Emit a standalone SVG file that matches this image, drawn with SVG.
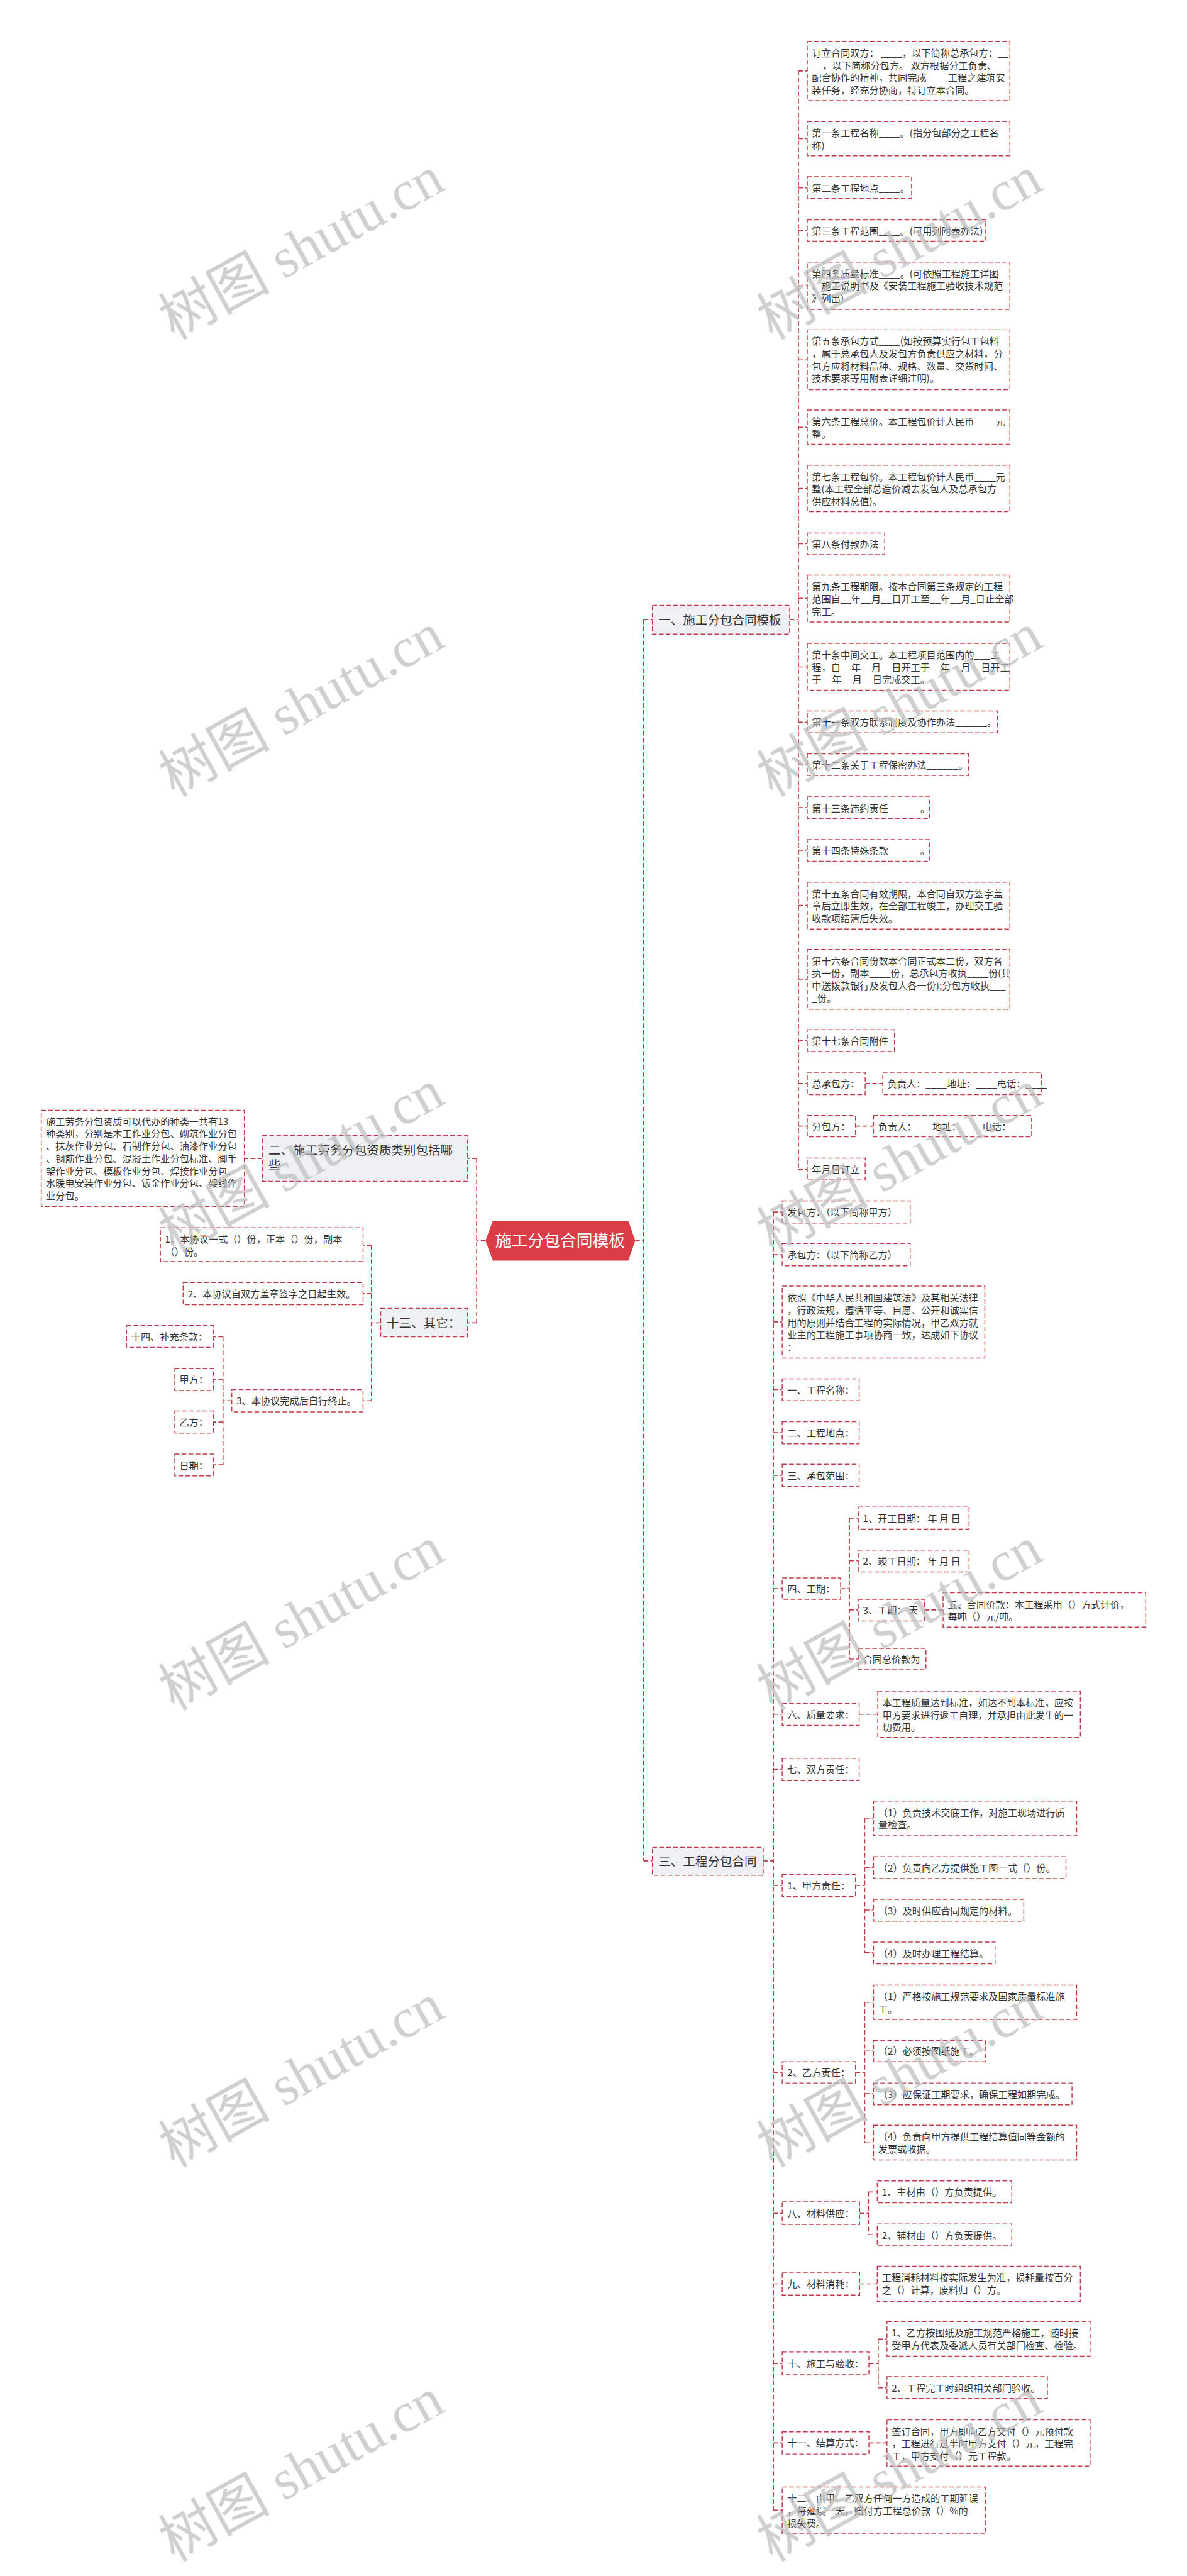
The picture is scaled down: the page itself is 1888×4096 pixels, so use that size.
<svg xmlns="http://www.w3.org/2000/svg" width="1888" height="4096" viewBox="0 0 1888 4096">
<style>
.b{fill:#fff;stroke:#c43a44;stroke-width:2;stroke-dasharray:10 5}
.g{fill:#eef0f4;stroke:#c43a44;stroke-width:2;stroke-dasharray:10 5}
.c{fill:none;stroke:#c43a44;stroke-width:2.2;stroke-dasharray:10 5}
.t{font-family:"Noto Sans CJK SC","Noto Sans",sans-serif;font-size:20.6px;fill:#333}
.tb{font-family:"Noto Sans CJK SC","Noto Sans",sans-serif;font-size:26.5px;fill:#333}
.tr{font-family:"Noto Sans CJK SC","Noto Sans",sans-serif;font-size:35px;fill:#fff}
.w{font-family:"Liberation Serif","Noto Sans CJK SC",serif;font-size:120px;fill:#bdbdbd;opacity:.72}
</style>
<rect width="1888" height="4096" fill="#fff"/>
<g transform="scale(0.7375)">
<g id="connectors">
<path class="c" d="M1370 2675H1388M1388 1336V4012M1388 1336H1407M1388 4012H1407"/>
<path class="c" d="M1047 2675H1028M1028 2498V2852M1028 2498H1008M1028 2852H1008M566 2498H527"/>
<path class="c" d="M821 2852H801M801 2685V3020M801 2685H783M801 2789H783M801 3020H783"/>
<path class="c" d="M500 3020H481M481 2882V3158M481 2882H460M481 2974H460M481 3066H460M481 3158H460"/>
<path class="c" d="M1703 1336H1722M1722 153V2521M1722 153H1741M1722 299H1741M1722 405H1741M1722 497H1741M1722 616H1741M1722 776H1741M1722 921H1741M1722 1053H1741M1722 1172H1741M1722 1290H1741M1722 1438H1741M1722 1557H1741M1722 1649H1741M1722 1741H1741M1722 1833H1741M1722 1952H1741M1722 2111H1741M1722 2243H1741M1722 2336H1741M1722 2428H1741M1722 2521H1741M1866 2336H1904M1845 2428H1884"/>
<path class="c" d="M1646 4012H1668M1668 2613V5412M1668 2613H1687M1668 2705H1687M1668 2850H1687M1668 2996H1687M1668 3089H1687M1668 3181H1687M1668 3425H1687M1668 3696H1687M1668 3815H1687M1668 4065H1687M1668 4468H1687M1668 4772H1687M1668 4924H1687M1668 5096H1687M1668 5267H1687M1668 5412H1687"/>
<path class="c" d="M1813 3425H1832M1832 3273V3577M1832 3273H1851M1832 3365H1851M1832 3471H1851M1832 3577H1851M1994 3471H2034M1853 3696H1893"/>
<path class="c" d="M1845 4065H1865M1865 3920V4210M1865 3920H1884M1865 4026H1884M1865 4118H1884M1865 4210H1884"/>
<path class="c" d="M1845 4468H1865M1865 4317V4620M1865 4317H1884M1865 4422H1884M1865 4514H1884M1865 4620H1884"/>
<path class="c" d="M1854 4772H1873M1873 4726V4818M1873 4726H1892M1873 4818H1892M1854 4924H1892M1874 5096H1894M1894 5043V5148M1894 5043H1913M1894 5148H1913M1874 5267H1913"/>
</g>

<g id="root"><polygon points="1047,2675 1063,2632 1355,2632 1370,2675 1355,2718 1063,2718" fill="#dc3c46"/><text class="tr" x="1208" y="2688" text-anchor="middle">施工分包合同模板</text></g>

<g id="b1"><rect class="g" x="1407" y="1305" width="296" height="62"/><text class="tb" x="1420" y="1346">一、施工分包合同模板</text></g>
<g id="b2"><rect class="g" x="566" y="2448" width="442" height="99"/><text class="tb"><tspan x="579" y="2489">二、施工劳务分包资质类别包括哪</tspan><tspan x="579" y="2522">些</tspan></text></g>
<g id="b13"><rect class="g" x="821" y="2821" width="187" height="61"/><text class="tb" x="834" y="2862">十三、其它：</text></g>
<g id="b3"><rect class="g" x="1407" y="3983" width="239" height="60"/><text class="tb" x="1420" y="4023">三、工程分包合同</text></g>

<g id="n1"><rect class="b" x="1741" y="89" width="437" height="128"/><text class="t"><tspan x="1751" y="122">订立合同双方：  ____，以下简称总承包方：__</tspan><tspan x="1751" y="149">__，以下简称分包方。 双方根据分工负责、</tspan><tspan x="1751" y="175.5">配合协作的精神，共同完成____工程之建筑安</tspan><tspan x="1751" y="202">装任务，经充分协商，特订立本合同。</tspan></text></g>
<g id="n2"><rect class="b" x="1741" y="262" width="437" height="74"/><text class="t"><tspan x="1751" y="294.5">第一条工程名称____。(指分包部分之工程名</tspan><tspan x="1751" y="321.2">称)</tspan></text></g>
<g id="n3"><rect class="b" x="1741" y="381" width="225" height="47"/><text class="t" x="1751" y="413">第二条工程地点____。</text></g>
<g id="n4"><rect class="b" x="1741" y="474" width="385" height="46"/><text class="t" x="1751" y="505.5">第三条工程范围____。(可用列附表办法)</text></g>
<g id="n5"><rect class="b" x="1741" y="565" width="437" height="102"/><text class="t"><tspan x="1751" y="597.5">第四条质量标准____。(可依照工程施工详图</tspan><tspan x="1751" y="624.2">、施工说明书及《安装工程施工验收技术规范</tspan><tspan x="1751" y="650.9">》列出)</tspan></text></g>
<g id="n6"><rect class="b" x="1741" y="711" width="437" height="129"/><text class="t"><tspan x="1751" y="743.5">第五条承包方式____(如按预算实行包工包料</tspan><tspan x="1751" y="770.2">，属于总承包人及发包方负责供应之材料，分</tspan><tspan x="1751" y="796.9">包方应将材料品种、规格、数量、交货时间、</tspan><tspan x="1751" y="823.6">技术要求等用附表详细注明)。</tspan></text></g>
<g id="n7"><rect class="b" x="1741" y="884" width="437" height="74"/><text class="t"><tspan x="1751" y="916.5">第六条工程总价。本工程包价计人民币____元</tspan><tspan x="1751" y="943.2">整。</tspan></text></g>
<g id="n8"><rect class="b" x="1741" y="1003" width="437" height="100"/><text class="t"><tspan x="1751" y="1035.5">第七条工程包价。本工程包价计人民币____元</tspan><tspan x="1751" y="1062.2">整(本工程全部总造价减去发包人及总承包方</tspan><tspan x="1751" y="1088.9">供应材料总值)。</tspan></text></g>
<g id="n9"><rect class="b" x="1741" y="1149" width="167" height="47"/><text class="t" x="1751" y="1181">第八条付款办法</text></g>
<g id="n10"><rect class="b" x="1741" y="1240" width="437" height="101"/><text class="t"><tspan x="1751" y="1272.5">第九条工程期限。按本合同第三条规定的工程</tspan><tspan x="1751" y="1299.2">范围自__年__月__日开工至__年__月_日止全部</tspan><tspan x="1751" y="1325.9">完工。</tspan></text></g>
<g id="n11"><rect class="b" x="1741" y="1387" width="437" height="101"/><text class="t"><tspan x="1751" y="1419.5">第十条中间交工。本工程项目范围内的___工</tspan><tspan x="1751" y="1446.2">程，自__年__月__日开工于__年__月__日开工</tspan><tspan x="1751" y="1472.9">于__年__月__日完成交工。</tspan></text></g>
<g id="n12"><rect class="b" x="1741" y="1533" width="410" height="47"/><text class="t" x="1751" y="1565">第十一条双方联系制度及协作办法______。</text></g>
<g id="n13"><rect class="b" x="1741" y="1625" width="348" height="47"/><text class="t" x="1751" y="1657">第十二条关于工程保密办法______。</text></g>
<g id="n14"><rect class="b" x="1741" y="1718" width="264" height="47"/><text class="t" x="1751" y="1750">第十三条违约责任______。</text></g>
<g id="n15"><rect class="b" x="1741" y="1810" width="264" height="47"/><text class="t" x="1751" y="1842">第十四条特殊条款______。</text></g>
<g id="n16"><rect class="b" x="1741" y="1902" width="437" height="101"/><text class="t"><tspan x="1751" y="1934.5">第十五条合同有效期限，本合同自双方签字盖</tspan><tspan x="1751" y="1961.2">章后立即生效，在全部工程竣工，办理交工验</tspan><tspan x="1751" y="1987.9">收款项结清后失效。</tspan></text></g>
<g id="n17"><rect class="b" x="1741" y="2047" width="437" height="129"/><text class="t"><tspan x="1751" y="2079.5">第十六条合同份数本合同正式本二份，双方各</tspan><tspan x="1751" y="2106.2">执一份，副本____份，总承包方收执____份(其</tspan><tspan x="1751" y="2132.9">中送拨款银行及发包人各一份);分包方收执___</tspan><tspan x="1751" y="2159.6">_份。</tspan></text></g>
<g id="n18"><rect class="b" x="1741" y="2220" width="188" height="47"/><text class="t" x="1751" y="2252">第十七条合同附件</text></g>
<g id="n19"><rect class="b" x="1741" y="2312" width="125" height="48"/><text class="t" x="1751" y="2344">总承包方：</text></g>
<g id="n19a"><rect class="b" x="1904" y="2312" width="342" height="48"/><text class="t" x="1914" y="2344">负责人：____地址：____电话：____</text></g>
<g id="n20"><rect class="b" x="1741" y="2405" width="104" height="46"/><text class="t" x="1751" y="2436.5">分包方：</text></g>
<g id="n20a"><rect class="b" x="1884" y="2405" width="341" height="46"/><text class="t" x="1894" y="2436.5">负责人：___地址：____电话：____</text></g>
<g id="n21"><rect class="b" x="1741" y="2497" width="125" height="47"/><text class="t" x="1751" y="2529">年月日订立</text></g>

<g id="l1"><rect class="b" x="89" y="2394" width="438" height="207"/><text class="t"><tspan x="99" y="2425.5">施工劳务分包资质可以代办的种类一共有13</tspan><tspan x="99" y="2452.2">种类别，分别是木工作业分包、砌筑作业分包</tspan><tspan x="99" y="2478.9">、抹灰作业分包、石制作分包、油漆作业分包</tspan><tspan x="99" y="2505.6">、钢筋作业分包、混凝土作业分包标准、脚手</tspan><tspan x="99" y="2532.3">架作业分包、模板作业分包、焊接作业分包、</tspan><tspan x="99" y="2559">水暖电安装作业分包、钣金作业分包、架线作</tspan><tspan x="99" y="2585.7">业分包。</tspan></text></g>
<g id="q1"><rect class="b" x="346" y="2647" width="437" height="73"/><text class="t"><tspan x="356" y="2679">1、本协议一式（）份，正本（）份，副本</tspan><tspan x="356" y="2706">（）份。</tspan></text></g>
<g id="q2"><rect class="b" x="395" y="2765" width="388" height="48"/><text class="t" x="405" y="2797">2、本协议自双方盖章签字之日起生效。</text></g>
<g id="q3"><rect class="b" x="500" y="2996" width="283" height="48"/><text class="t" x="510" y="3028">3、本协议完成后自行终止。</text></g>
<g id="r1"><rect class="b" x="273" y="2858" width="187" height="47"/><text class="t" x="283" y="2890">十四、补充条款：</text></g>
<g id="r2"><rect class="b" x="377" y="2950" width="83" height="48"/><text class="t" x="387" y="2982">甲方：</text></g>
<g id="r3"><rect class="b" x="377" y="3042" width="83" height="48"/><text class="t" x="387" y="3074">乙方：</text></g>
<g id="r4"><rect class="b" x="377" y="3135" width="83" height="47"/><text class="t" x="387" y="3167">日期：</text></g>

<g id="s1"><rect class="b" x="1687" y="2589" width="276" height="48"/><text class="t" x="1698" y="2621">发包方：（以下简称甲方）</text></g>
<g id="s2"><rect class="b" x="1687" y="2681" width="276" height="48"/><text class="t" x="1698" y="2713">承包方：（以下简称乙方）</text></g>
<g id="s3"><rect class="b" x="1687" y="2773" width="437" height="155"/><text class="t"><tspan x="1698" y="2806">依照《中华人民共和国建筑法》及其相关法律</tspan><tspan x="1698" y="2832.7">，行政法规，遵循平等、自愿、公开和诚实信</tspan><tspan x="1698" y="2859.4">用的原则并结合工程的实际情况，甲乙双方就</tspan><tspan x="1698" y="2886.1">业主的工程施工事项协商一致，达成如下协议</tspan><tspan x="1698" y="2912.8">：</tspan></text></g>
<g id="s4"><rect class="b" x="1687" y="2973" width="166" height="47"/><text class="t" x="1698" y="3005">一、工程名称：</text></g>
<g id="s5"><rect class="b" x="1687" y="3065" width="166" height="48"/><text class="t" x="1698" y="3097">二、工程地点：</text></g>
<g id="s6"><rect class="b" x="1687" y="3157" width="166" height="48"/><text class="t" x="1698" y="3189">三、承包范围：</text></g>
<g id="s7"><rect class="b" x="1687" y="3402" width="126" height="46"/><text class="t" x="1698" y="3433.5">四、工期：</text></g>
<g id="s7a"><rect class="b" x="1851" y="3249" width="239" height="48"/><text class="t" x="1861" y="3281">1、开工日期：  年 月 日</text></g>
<g id="s7b"><rect class="b" x="1851" y="3342" width="239" height="47"/><text class="t" x="1861" y="3373.5">2、竣工日期：  年 月 日</text></g>
<g id="s7c"><rect class="b" x="1851" y="3448" width="143" height="47"/><text class="t" x="1861" y="3479.5">3、工期：  天</text></g>
<g id="s7d"><rect class="b" x="2034" y="3434" width="437" height="74"/><text class="t"><tspan x="2044" y="3466.5">五、合同价款：本工程采用（）方式计价，</tspan><tspan x="2044" y="3493.2">每吨（）元/吨。</tspan></text></g>
<g id="s7e"><rect class="b" x="1851" y="3554" width="146" height="46"/><text class="t" x="1861" y="3585.5">合同总价款为</text></g>
<g id="s8"><rect class="b" x="1687" y="3673" width="166" height="47"/><text class="t" x="1698" y="3705">六、质量要求：</text></g>
<g id="s8a"><rect class="b" x="1893" y="3646" width="437" height="100"/><text class="t"><tspan x="1903" y="3678.5">本工程质量达到标准，如达不到本标准，应按</tspan><tspan x="1903" y="3705.2">甲方要求进行返工自理，并承担由此发生的一</tspan><tspan x="1903" y="3731.9">切费用。</tspan></text></g>
<g id="s9"><rect class="b" x="1687" y="3791" width="166" height="48"/><text class="t" x="1698" y="3823">七、双方责任：</text></g>
<g id="s10"><rect class="b" x="1687" y="4041" width="158" height="48"/><text class="t" x="1698" y="4073">1、甲方责任：</text></g>
<g id="s10a"><rect class="b" x="1884" y="3883" width="438" height="75"/><text class="t"><tspan x="1894" y="3915.5">（1）负责技术交底工作，对施工现场进行质</tspan><tspan x="1894" y="3942.2">量检查。</tspan></text></g>
<g id="s10b"><rect class="b" x="1884" y="4003" width="415" height="47"/><text class="t" x="1894" y="4035">（2）负责向乙方提供施工图一式（）份。</text></g>
<g id="s10c"><rect class="b" x="1884" y="4095" width="324" height="47"/><text class="t" x="1894" y="4127">（3）及时供应合同规定的材料。</text></g>
<g id="s10d"><rect class="b" x="1884" y="4187" width="262" height="47"/><text class="t" x="1894" y="4219">（4）及时办理工程结算。</text></g>
<g id="s11"><rect class="b" x="1687" y="4445" width="158" height="46"/><text class="t" x="1698" y="4476.5">2、乙方责任：</text></g>
<g id="s11a"><rect class="b" x="1884" y="4280" width="438" height="74"/><text class="t"><tspan x="1894" y="4312.5">（1）严格按施工规范要求及国家质量标准施</tspan><tspan x="1894" y="4339.2">工。</tspan></text></g>
<g id="s11b"><rect class="b" x="1884" y="4399" width="241" height="46"/><text class="t" x="1894" y="4430.5">（2）必须按图纸施工。</text></g>
<g id="s11c"><rect class="b" x="1884" y="4491" width="428" height="47"/><text class="t" x="1894" y="4523">（3）应保证工期要求，确保工程如期完成。</text></g>
<g id="s11d"><rect class="b" x="1884" y="4582" width="438" height="75"/><text class="t"><tspan x="1894" y="4614.5">（4）负责向甲方提供工程结算值同等金额的</tspan><tspan x="1894" y="4641.2">发票或收据。</tspan></text></g>
<g id="s12"><rect class="b" x="1687" y="4747" width="167" height="49"/><text class="t" x="1698" y="4780">八、材料供应：</text></g>
<g id="s12a"><rect class="b" x="1892" y="4702" width="290" height="47"/><text class="t" x="1902" y="4734">1、主材由（）方负责提供。</text></g>
<g id="s12b"><rect class="b" x="1892" y="4795" width="290" height="47"/><text class="t" x="1902" y="4827">2、辅材由（）方负责提供。</text></g>
<g id="s13"><rect class="b" x="1687" y="4899" width="167" height="49"/><text class="t" x="1698" y="4932">九、材料消耗：</text></g>
<g id="s13a"><rect class="b" x="1892" y="4886" width="438" height="76"/><text class="t"><tspan x="1902" y="4918.5">工程消耗材料按实际发生为准，损耗量按百分</tspan><tspan x="1902" y="4945.2">之（）计算，废料归（）方。</tspan></text></g>
<g id="s14"><rect class="b" x="1687" y="5071" width="187" height="49"/><text class="t" x="1698" y="5104">十、施工与验收：</text></g>
<g id="s14a"><rect class="b" x="1913" y="5005" width="438" height="75"/><text class="t"><tspan x="1923" y="5037.5">1、乙方按图纸及施工规范严格施工，随时接</tspan><tspan x="1923" y="5064.2">受甲方代表及委派人员有关部门检查、检验。</tspan></text></g>
<g id="s14b"><rect class="b" x="1913" y="5124" width="346" height="47"/><text class="t" x="1923" y="5156">2、工程完工时组织相关部门验收。</text></g>
<g id="s15"><rect class="b" x="1687" y="5243" width="187" height="48"/><text class="t" x="1698" y="5275">十一、结算方式：</text></g>
<g id="s15a"><rect class="b" x="1913" y="5217" width="438" height="100"/><text class="t"><tspan x="1923" y="5249.5">签订合同，甲方即向乙方交付（）元预付款</tspan><tspan x="1923" y="5276.2">，工程进行过半时甲方支付（）元，工程完</tspan><tspan x="1923" y="5302.9">工，甲方支付（）元工程款。</tspan></text></g>
<g id="s16"><rect class="b" x="1687" y="5362" width="438" height="101"/><text class="t"><tspan x="1698" y="5394.5">十二、由甲、乙双方任何一方造成的工期延误</tspan><tspan x="1698" y="5421.2">，每延误一天，赔付方工程总价款（）%的</tspan><tspan x="1698" y="5447.9">损失费。</tspan></text></g>

<g id="watermark" class="w" text-anchor="middle">
<text transform="translate(650 535) rotate(-29)" y="40">树图 shutu.cn</text>
<text transform="translate(1940 535) rotate(-29)" y="40">树图 shutu.cn</text>
<text transform="translate(650 1520) rotate(-29)" y="40">树图 shutu.cn</text>
<text transform="translate(1940 1520) rotate(-29)" y="40">树图 shutu.cn</text>
<text transform="translate(650 2505) rotate(-29)" y="40">树图 shutu.cn</text>
<text transform="translate(1940 2505) rotate(-29)" y="40">树图 shutu.cn</text>
<text transform="translate(650 3490) rotate(-29)" y="40">树图 shutu.cn</text>
<text transform="translate(1940 3490) rotate(-29)" y="40">树图 shutu.cn</text>
<text transform="translate(650 4475) rotate(-29)" y="40">树图 shutu.cn</text>
<text transform="translate(1940 4475) rotate(-29)" y="40">树图 shutu.cn</text>
<text transform="translate(650 5325) rotate(-29)" y="40">树图 shutu.cn</text>
<text transform="translate(1940 5325) rotate(-29)" y="40">树图 shutu.cn</text>
</g>
</g>
</svg>
